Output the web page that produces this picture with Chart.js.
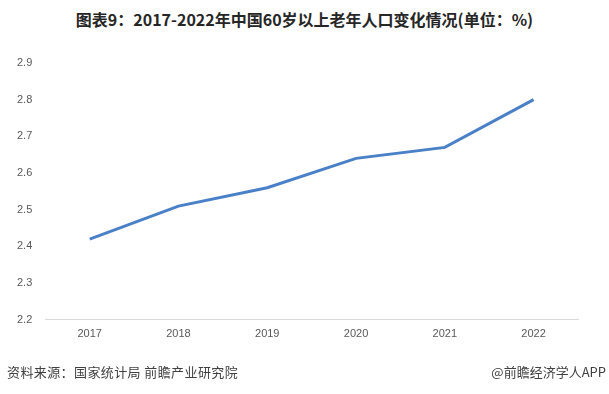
<!DOCTYPE html>
<html>
<head>
<meta charset="utf-8">
<script src="https://cdn.jsdelivr.net/npm/chart.js@4"></script>
<style>
  body { margin: 0; width: 609px; height: 394px; background: #fff; position: relative; overflow: hidden; font-family: "Noto Sans CJK SC", "Liberation Sans", sans-serif; }
  #title { position: absolute; top: 7px; left: 0; width: 609px; text-align: center; font-size: 16px; font-weight: bold; color: #262626; }
  #wrap { position: absolute; left: 0; top: 0; width: 609px; height: 394px; }
  .foot { position: absolute; top: 362px; font-size: 13px; color: #404040; }
</style>
</head>
<body>
<div id="title">图表9：2017-2022年中国60岁以上老年人口变化情况(单位：%)</div>
<div id="wrap"><canvas id="chart"></canvas></div>
<div class="foot" style="left:7px; letter-spacing:0.4px;">资料来源：国家统计局 前瞻产业研究院</div>
<div class="foot" style="right:3px;">@前瞻经济学人APP</div>
<script>
const years = ['2017', '2018', '2019', '2020', '2021', '2022'];
const values = [2.42, 2.51, 2.56, 2.64, 2.67, 2.80];
const yTicks = [2.2, 2.3, 2.4, 2.5, 2.6, 2.7, 2.8, 2.9];

const ctx = document.getElementById('chart').getContext('2d');
new Chart(ctx, {
    type: 'line',
    data: {
        labels: years,
        datasets: [{
            data: values,
            borderColor: '#4A80C8',
            borderWidth: 3,
            pointRadius: 0,
            tension: 0,
            fill: false
        }]
    },
    options: {
        responsive: true,
        maintainAspectRatio: false,
        animation: false,
        layout: { padding: { top: 63, bottom: 45, left: 4, right: 31 } },
        plugins: { legend: { display: false }, tooltip: { enabled: false } },
        scales: {
            x: {
                offset: true,
                grid: { display: false, drawTicks: false },
                border: { display: true, color: '#d9d9d9', width: 1 },
                ticks: { color: '#595959', font: { size: 11, family: 'Liberation Sans' }, padding: 8 }
            },
            y: {
                min: 2.2,
                max: 2.9,
                afterBuildTicks: axis => { axis.ticks = yTicks.map(v => ({ value: v })); },
                grid: { display: false, drawTicks: false },
                border: { display: false },
                ticks: {
                    color: '#595959',
                    font: { size: 11, family: 'Liberation Sans' },
                    padding: 13,
                    callback: v => v.toFixed(1)
                }
            }
        }
    }
});
</script>
</body>
</html>
